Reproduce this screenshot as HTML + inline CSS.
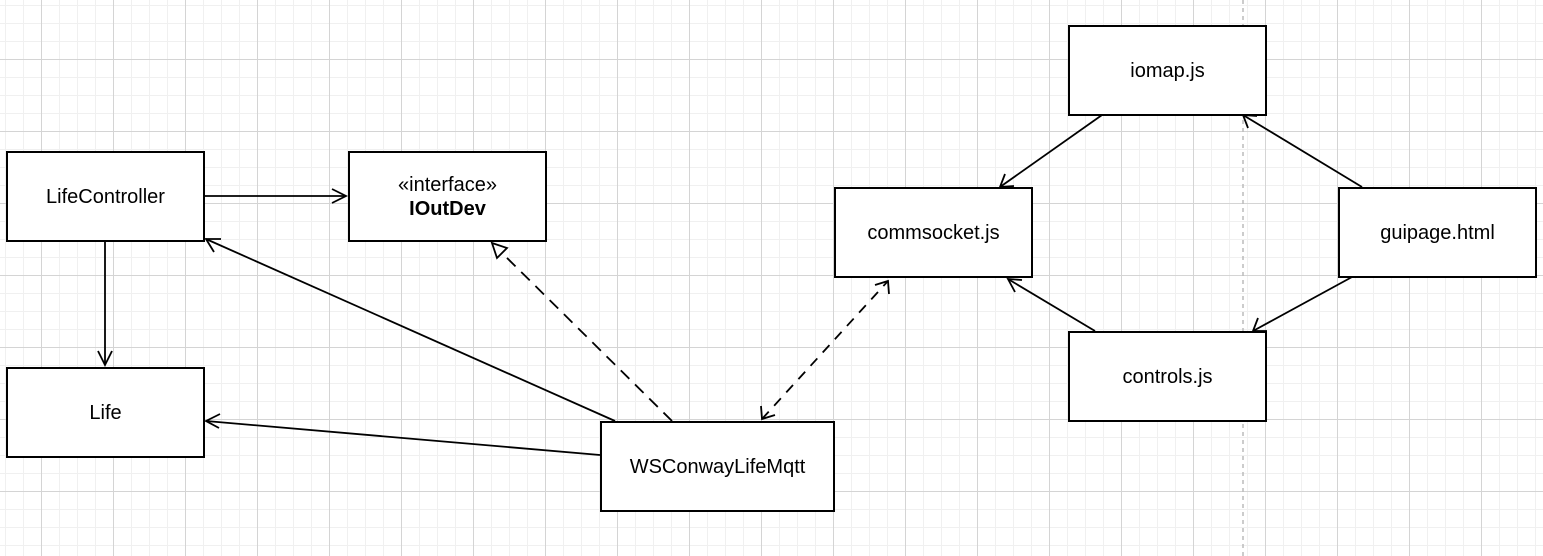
<!DOCTYPE html>
<html><head><style>
body{margin:0;width:1543px;height:556px;overflow:hidden;background:#fff;
background-image:
linear-gradient(to right,#d4d4d4 1px,transparent 1px),
linear-gradient(to bottom,#d4d4d4 1px,transparent 1px),
linear-gradient(to right,#f0f0f0 1px,transparent 1px),
linear-gradient(to bottom,#f0f0f0 1px,transparent 1px);
background-size:72px 72px,72px 72px,18px 18px,18px 18px;
background-position:41px 59px,41px 59px,5px 5px,5px 5px;
font-family:"Liberation Sans",sans-serif;}
.b{position:absolute;box-sizing:border-box;border:2px solid #000;background:#fff;display:flex;align-items:center;justify-content:center;text-align:center;font-size:20px;width:199px;height:91px;line-height:24px}
svg{position:absolute;left:0;top:0}
</style></head><body>
<svg width="1543" height="556">
<line x1="1243" y1="0" x2="1243" y2="556" stroke="#bbb" stroke-width="1.5" stroke-dasharray="4,4"/>
<g stroke="#000" stroke-width="1.8" fill="none">
<line x1="204" y1="196" x2="346" y2="196"/><polyline points="332,189 346,196 332,203"/>
<line x1="105" y1="241" x2="105" y2="365"/><polyline points="98,351 105,365 112,351"/>
<line x1="615" y1="421" x2="206" y2="239"/><polyline points="214,252 206,239 221,239"/>
<line x1="600" y1="455" x2="206" y2="421"/><polyline points="219,428 206,421 220,414"/>
<line x1="672" y1="421" x2="502" y2="253" stroke-dasharray="12,8"/><polygon points="492,243 507,248 497,258" fill="#fff"/>
<line x1="762" y1="419" x2="888" y2="281" stroke-dasharray="10,8"/>
<polyline points="761,406 762,419 775,415"/><polyline points="875,285 888,281 889,294"/>
<line x1="1102" y1="115" x2="1000" y2="187"/><polyline points="1005,174 1000,187 1014,186"/>
<line x1="1362" y1="187" x2="1243" y2="115"/><polyline points="1248,128 1243,115 1257,116"/>
<line x1="1352" y1="277" x2="1253" y2="331"/><polyline points="1258,318 1253,331 1267,331"/>
<line x1="1095" y1="331" x2="1008" y2="279"/><polyline points="1022,280 1008,279 1015,292"/>
</g></svg>
<div class="b" style="left:6px;top:151px">LifeController</div>
<div class="b" style="left:348px;top:151px"><div>«interface»<br><b>IOutDev</b></div></div>
<div class="b" style="left:6px;top:367px">Life</div>
<div class="b" style="left:600px;top:421px;width:235px">WSConwayLifeMqtt</div>
<div class="b" style="left:834px;top:187px">commsocket.js</div>
<div class="b" style="left:1068px;top:25px">iomap.js</div>
<div class="b" style="left:1338px;top:187px">guipage.html</div>
<div class="b" style="left:1068px;top:331px">controls.js</div>
</body></html>
